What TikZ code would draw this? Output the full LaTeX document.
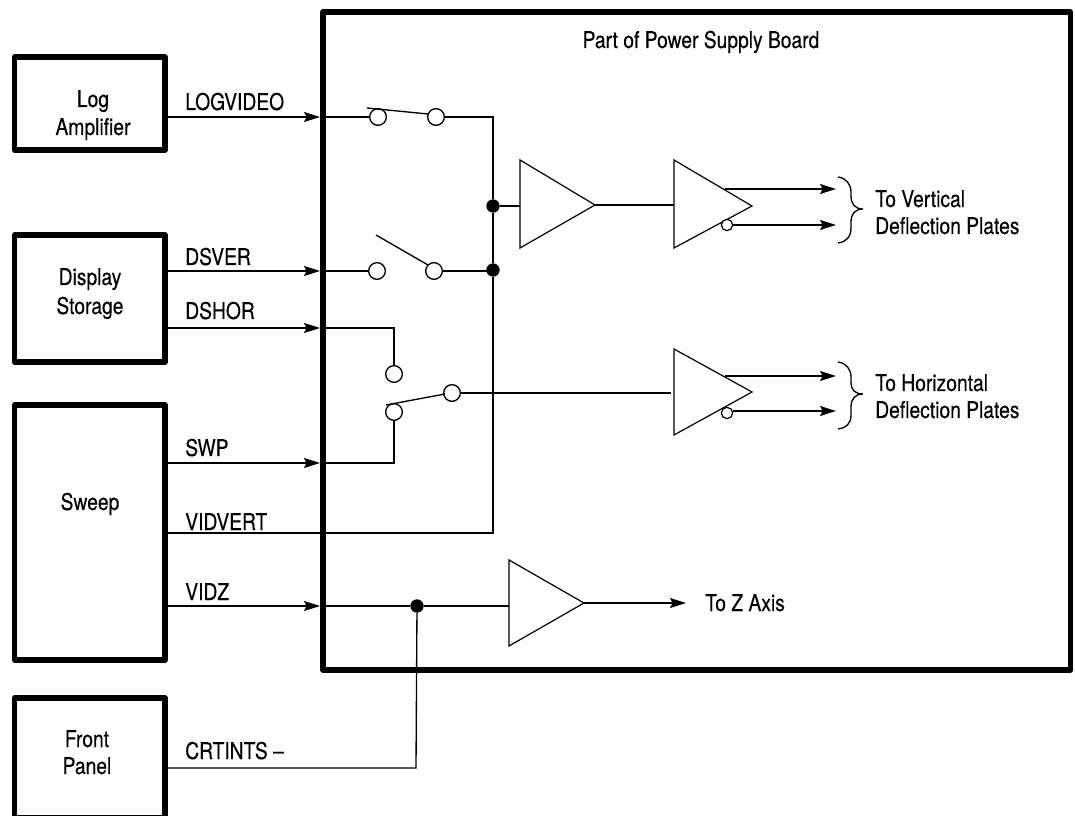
\documentclass[tikz,border=0pt]{standalone}
\usepackage{fontspec}
\setmainfont[FakeStretch=0.835,FakeBold=0.25]{TeX Gyre Heros}
\usetikzlibrary{arrows.meta}
\tikzset{
  x=0.75pt,y=-0.75pt,
  thickbox/.style={draw=black,line width=3.9pt,line join=round},
  wire/.style={draw=black,line width=1pt,line join=miter},
  sig/.style={wire,-{Stealth[length=12pt,width=7.5pt,inset=2pt]}},
  term/.style={circle,draw=black,fill=white,line width=1pt,minimum size=12.5pt,inner sep=0pt},
  bubble/.style={circle,draw=black,fill=white,line width=0.9pt,minimum size=8.5pt,inner sep=0pt},
  dot/.style={circle,fill=black,draw=none,minimum size=10pt,inner sep=0pt},
  lab/.style={font=\fontsize{17.3}{19}\selectfont,inner sep=0pt,anchor=base west},
  clab/.style={font=\fontsize{17.3}{19}\selectfont,inner sep=0pt,anchor=base},
  ampl/.style={draw=black,line width=0.9pt,line join=miter,fill=white},
}
\begin{document}
\begin{tikzpicture}
\useasboundingbox (0,0) rectangle (1075,816);
\clip (0,0) rectangle (1075,816);
% blocks
\draw[thickbox] (323,12) rectangle (1070.5,670);
\draw[thickbox] (14.5,57) rectangle (165,150);
\draw[thickbox] (14.5,235) rectangle (165,362);
\draw[thickbox] (14.5,405) rectangle (165,660);
\draw[thickbox] (14.5,698) rectangle (165,818);
\coordinate (logR) at (167,117);
\coordinate (dsverR) at (167,271);
\coordinate (dshorR) at (167,328);
\coordinate (swpR) at (167,463);
\coordinate (vidvR) at (167,533);
\coordinate (vidzR) at (167,606);
\coordinate (crtR) at (167,768);
\coordinate (edge1) at (320,117);
\coordinate (edge2) at (320,271);
\coordinate (edge3) at (320,328);
\coordinate (edge4) at (320,463);
\coordinate (edge5) at (320,606);
% amplifier points
\coordinate (a1t) at (520,160); \coordinate (a1b) at (520,248); \coordinate (a1o) at (595,205);
\coordinate (a2t) at (674,160); \coordinate (a2b) at (674,248); \coordinate (a2o) at (752,206);
\coordinate (a3t) at (674,349); \coordinate (a3b) at (674,435); \coordinate (a3o) at (752,392);
\coordinate (a4t) at (509,560); \coordinate (a4b) at (509,646); \coordinate (a4o) at (584,603);
% terminals and junctions
\node[term] (s1a) at (378,117) {};
\node[term] (s1b) at (436,117) {};
\node[term] (s2a) at (377,271) {};
\node[term] (s2b) at (434,271) {};
\node[term] (s3a) at (394,374) {};
\node[term] (s3b) at (394,412) {};
\node[term] (s3c) at (452,393) {};
\node[dot] (j1) at (493,206) {};
\node[dot] (j2) at (493,270) {};
\node[dot] (j3) at (417,606) {};
\coordinate (busT) at (493,117);
\coordinate (busB) at (493,533);
\coordinate (s3w) at (671,393);
% wires
\draw[sig] (logR) -- (edge1);
\draw[sig] (dsverR) -- (edge2);
\draw[sig] (dshorR) -- (edge3);
\draw[sig] (swpR) -- (edge4);
\draw[sig] (vidzR) -- (edge5);
\draw[wire] (edge1) -- (s1a);
\draw[wire] (s1b) -- (busT) -- (j1) -- (j2) -- (busB) -- (vidvR);
\draw[wire] (edge2) -- (s2a);
\draw[wire] (s2b) -- (s2b -| j2);
\draw[wire] (edge3) -- (394,328) -- (s3a);
\draw[wire] (edge4) -- (394,463) -- (s3b);
\draw[wire] (edge5) -- (j3) -- (a4t |- j3);
\draw[wire] (crtR) -- (416,768) -- (j3);
\draw[wire] (j1) -- (a1t |- j1);
\draw[wire] (a1o) -- (a2t |- a1o);
\draw[wire] (s3c) -- (s3w);
% switch blades
\coordinate (b1s) at (367,108); \coordinate (b1e) at (428,114);
\coordinate (b2s) at (376,235); \coordinate (b2e) at (428,265);
\coordinate (b3s) at (386,405); \coordinate (b3e) at (445,394);
\draw[wire] (b1s) -- (b1e);
\draw[wire] (b2s) -- (b2e);
\draw[wire] (b3s) -- (b3e);
% amplifiers
\draw[ampl] (a1t) -- (a1o) -- (a1b) -- cycle;
\draw[ampl] (a2t) -- (a2o) -- (a2b) -- cycle;
\draw[ampl] (a3t) -- (a3o) -- (a3b) -- cycle;
\draw[ampl] (a4t) -- (a4o) -- (a4b) -- cycle;
% outputs
\coordinate (o1) at (725,189); \coordinate (o1e) at (836,189);
\coordinate (o2e) at (836,225);
\coordinate (o3) at (725,376); \coordinate (o3e) at (836,376);
\coordinate (o4e) at (836,411);
\coordinate (o5e) at (686,603);
\node[bubble] (b1) at (727,225) {};
\node[bubble] (b2) at (727,413) {};
\draw[sig] (o1) -- (o1e);
\draw[sig] (b1) -- (o2e);
\draw[sig] (o3) -- (o3e);
\draw[sig] (b2.east |- o4e) -- (o4e);
\draw[sig] (a4o) -- (o5e);
% braces
\draw[wire] (838,177) .. controls (846,178) and (851,184) .. (851,192) -- (851,196) .. controls (851,204) and (855,209) .. (863,209) .. controls (855,209) and (851,214) .. (851,222) -- (851,228) .. controls (851,237) and (846,242) .. (838,243);
\draw[wire] (838,362) .. controls (846,363) and (851,369) .. (851,377) -- (851,382) .. controls (851,390) and (855,394) .. (863,394) .. controls (855,394) and (851,399) .. (851,407) -- (851,415) .. controls (851,424) and (846,428) .. (838,429);
% labels
\node[clab] (t0) at (701,48) {Part of Power Supply Board};
\node[clab] (t1) at (93,107) {Log};
\node[clab] (t2) at (93,135) {Amplifier};
\node[clab] (t3) at (90,285) {Display};
\node[clab] (t4) at (90,314) {Storage};
\node[clab] (t5) at (90,510) {Sweep};
\node[clab] (t6) at (87,747) {Front};
\node[clab] (t7) at (87,774) {Panel};
\node[lab] (l1) at (185,110) {LOGVIDEO};
\node[lab] (l2) at (185,265) {DSVER};
\node[lab] (l3) at (185,319) {DSHOR};
\node[lab] (l4) at (185,456) {SWP};
\node[lab] (l5) at (185,530) {VIDVERT};
\node[lab] (l6) at (185,600) {VIDZ};
\node[lab] (l7) at (185,759) {CRTINTS --};
\node[lab] (r1) at (875,207) {To Vertical};
\node[lab] (r2) at (875,234) {Deflection Plates};
\node[lab] (r3) at (875,391) {To Horizontal};
\node[lab] (r4) at (875,418) {Deflection Plates};
\node[lab] (r5) at (705,611) {To Z Axis};
\end{tikzpicture}
\end{document}
